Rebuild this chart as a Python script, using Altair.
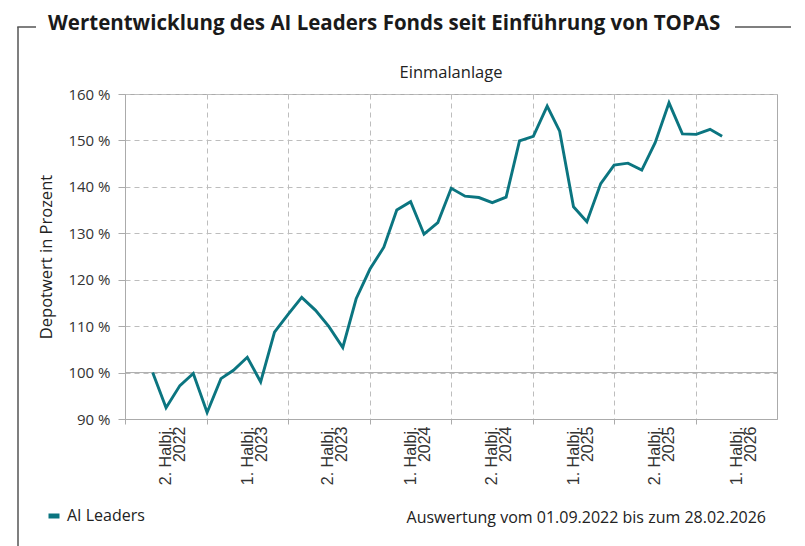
import altair as alt
import pandas as pd

# ---------------- data ----------------
dates = [
    "2022-09-01", "2022-10-01", "2022-11-01", "2022-12-01",
    "2023-01-01", "2023-02-01", "2023-03-01", "2023-04-01", "2023-05-01", "2023-06-01",
    "2023-07-01", "2023-08-01", "2023-09-01", "2023-10-01", "2023-11-01", "2023-12-01",
    "2024-01-01", "2024-02-01", "2024-03-01", "2024-04-01", "2024-05-01", "2024-06-01",
    "2024-07-01", "2024-08-01", "2024-09-01", "2024-10-01", "2024-11-01", "2024-12-01",
    "2025-01-01", "2025-02-01", "2025-03-01", "2025-04-01", "2025-05-01", "2025-06-01",
    "2025-07-01", "2025-08-01", "2025-09-01", "2025-10-01", "2025-11-01", "2025-12-01",
    "2026-01-01", "2026-02-01", "2026-02-28",
]
values = [
    100.0, 92.4, 97.2, 99.8,
    91.4, 98.7, 100.5, 103.3, 98.0, 108.7,
    112.5, 116.2, 113.4, 109.9, 105.4, 115.9,
    122.3, 127.0, 135.0, 136.8, 129.8, 132.3,
    139.7, 138.0, 137.7, 136.6, 137.8, 149.9,
    150.9, 157.4, 152.0, 135.7, 132.5, 140.7,
    144.7, 145.1, 143.6, 149.5, 158.1, 151.4,
    151.3, 152.4, 150.9,
]
series_name = "AI Leaders"

tick_starts = ["2022-07", "2023-01", "2023-07", "2024-01", "2024-07", "2025-01", "2025-07", "2026-01"]
tick_line1 = ["2. Halbj.", "1. Halbj.", "2. Halbj.", "1. Halbj.", "2. Halbj.", "1. Halbj.", "2. Halbj.", "1. Halbj."]
tick_line2 = ["2022", "2023", "2023", "2024", "2024", "2025", "2025", "2026"]
y_ticks = [90, 100, 110, 120, 130, 140, 150, 160]

title_text = "Wertentwicklung des AI Leaders Fonds seit Einführung von TOPAS"
subtitle_text = "Einmalanlage"
y_title = "Depotwert in Prozent"
footnote = "Auswertung vom 01.09.2022 bis zum 28.02.2026"

# ---------------- style ----------------
TEAL = "#0b7580"
GRID = "#bdbdbd"
BORDER = "#ababab"
FRAME = "#555555"
W, H = 652, 325

df = pd.DataFrame({"date": dates, "value": values, "series": series_name})

label_expr = "''"
for k, a, b in reversed(list(zip(tick_starts, tick_line1, tick_line2))):
    label_expr = f"utcFormat(datum.value, '%Y-%m') == '{k}' ? ['{a}', '{b}'] : " + label_expr

tick_values = [alt.DateTime(year=int(k[:4]), month=int(k[5:]), date=1, utc=True) for k in tick_starts]

x_enc = alt.X(
    "date:T",
    scale=alt.Scale(type="utc", domain=[alt.DateTime(year=2022, month=7, date=1, utc=True),
                                        alt.DateTime(year=2026, month=7, date=1, utc=True)]),
    axis=alt.Axis(values=tick_values, labelExpr=label_expr, labelAngle=-90, labelAlign="right",
                  labelBaseline="middle", labelOffset=40, labelFlush=False, labelOverlap=False,
                  grid=True, gridDash=[5, 4], gridColor=GRID, tickSize=5, tickColor=BORDER,
                  domainColor=BORDER, labelFont="Liberation Sans", labelFontSize=16,
                  labelColor="#333333", labelLineHeight=14, labelPadding=2, title=None),
)
y_enc = alt.Y(
    "value:Q",
    scale=alt.Scale(domain=[90, 160], nice=False, zero=False),
    axis=alt.Axis(values=y_ticks, labelExpr="datum.value + ' %'", grid=True, gridDash=[5, 4],
                  gridColor=GRID, tickSize=7, tickColor=BORDER, domainColor=BORDER,
                  labelFont="Open Sans", labelFontSize=15, labelColor="#333333", labelPadding=8,
                  title=y_title, titleFont="Open Sans", titleFontSize=16.5, titleFontWeight="normal",
                  titleColor="#222222", titleX=-79, titleY=H / 2, titleAngle=-90,
                  titleAlign="center", titleBaseline="middle"),
)

line = alt.Chart(df).mark_line(strokeWidth=2.9).encode(
    x=x_enc,
    y=y_enc,
    color=alt.Color("series:N", scale=alt.Scale(domain=[series_name], range=[TEAL]),
                    legend=alt.Legend(orient="none", legendX=-79, legendY=414, title=None,
                                      symbolType="stroke", symbolSize=121, symbolStrokeWidth=5,
                                      labelFont="Open Sans", labelFontSize=16, labelColor="#222222",
                                      labelOffset=5)),
)

base_rule = alt.Chart(pd.DataFrame({"y": [100]})).mark_rule(color=BORDER, strokeWidth=1).encode(y="y:Q")

one = pd.DataFrame({"t": [0]})
title = alt.Chart(pd.DataFrame({"t": [title_text]})).mark_text(
    font="Open Sans", fontSize=20.5, fontWeight="bold", color="#1a1a1a", align="left", baseline="alphabetic"
).encode(text="t:N", x=alt.value(-77), y=alt.value(-64))
subtitle = alt.Chart(pd.DataFrame({"t": [subtitle_text]})).mark_text(
    font="Open Sans", fontSize=16.5, color="#222222", align="center", baseline="alphabetic"
).encode(text="t:N", x=alt.value(W / 2), y=alt.value(-16))
foot = alt.Chart(pd.DataFrame({"t": [footnote]})).mark_text(
    font="Open Sans", fontSize=16, color="#222222", align="right", baseline="alphabetic"
).encode(text="t:N", x=alt.value(641), y=alt.value(429))

frame_left = alt.Chart(one).mark_rule(color=FRAME, strokeWidth=1.5).encode(
    x=alt.value(-107), y=alt.value(-67), y2=alt.value(460))
frame_top_l = alt.Chart(one).mark_rule(color=FRAME, strokeWidth=1.5).encode(
    x=alt.value(-107.75), x2=alt.value(-89), y=alt.value(-67))
frame_top_r = alt.Chart(one).mark_rule(color=FRAME, strokeWidth=1.5).encode(
    x=alt.value(610), x2=alt.value(666), y=alt.value(-67))

chart = alt.layer(base_rule, line, title, subtitle, foot, frame_left, frame_top_l, frame_top_r).properties(
    width=W, height=H,
    autosize=alt.AutoSizeParams(type="none"),
    padding={"left": 125, "top": 94, "right": 28, "bottom": 127},
    background="white",
).configure_view(stroke=BORDER, strokeWidth=1)

chart.save("out.html", embed_options={"renderer": "svg", "actions": False})
